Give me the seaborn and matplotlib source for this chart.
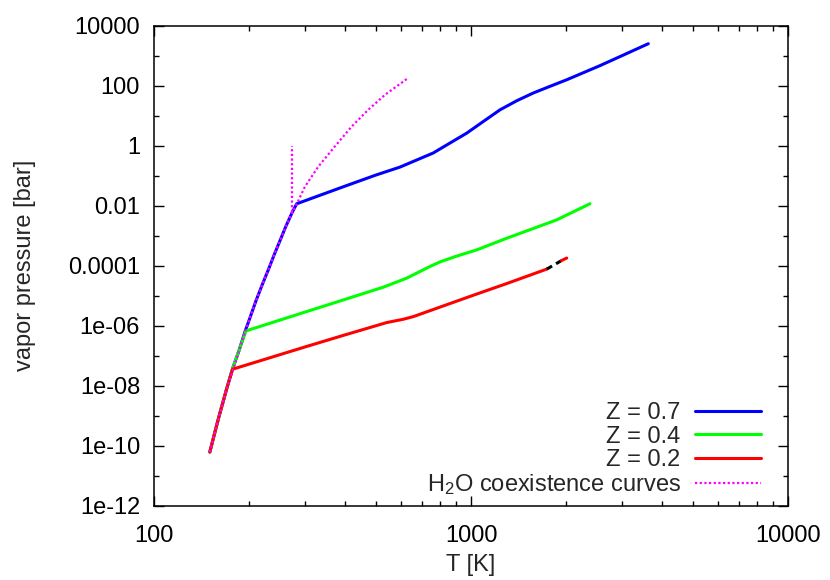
# Water vapor pressure vs temperature for three Z values, log-log
import numpy as np
import pandas as pd
import seaborn as sns
import matplotlib
matplotlib.use("Agg")
import matplotlib.pyplot as plt
from matplotlib.ticker import FixedLocator, FixedFormatter, LogLocator, NullFormatter

# === Data ===
# Z = 0.7
t_z07 = [150, 160, 170, 177, 185, 194, 200, 210, 220, 230, 240, 250, 260, 273, 282,
         400, 500, 597, 760, 858, 969, 1094, 1235, 1394, 1573, 1775, 2004, 2553, 3023, 3625]
p_z07 = [6.3e-11, 8.9e-10, 8.9e-9, 3.8e-8, 1.4e-7, 6.8e-7, 1.66e-6, 7.1e-6, 2.5e-5, 7.9e-5,
         2.5e-4, 7.1e-4, 1.96e-3, 6.1e-3, 1.17e-2,
         4.5e-2, 0.105, 0.195, 0.575, 1.23, 2.63, 6.46, 15.8, 31.6, 57.5, 95.5, 158, 468,
         1050, 2512]

# Z = 0.4
t_z04 = [150, 160, 170, 177, 185, 195, 300, 400, 529, 627, 742, 798, 900, 1042, 1296, 1863, 2373]
p_z04 = [6.3e-11, 8.9e-10, 8.9e-9, 3.8e-8, 1.4e-7, 6.8e-7, 2.9e-6, 7.6e-6, 1.95e-5, 3.9e-5,
         9.5e-5, 1.35e-4, 2.1e-4, 3.4e-4, 8.3e-4, 3.4e-3, 1.17e-2]

# Z = 0.2 (with a short black dashed piece near 2000 K)
t_z02 = [150, 160, 170, 177, 300, 400, 542, 611, 658, 1017, 1300, 1734]
p_z02 = [6.3e-11, 8.9e-10, 8.9e-9, 3.6e-8, 2.0e-7, 5.0e-7, 1.29e-6, 1.66e-6, 2.04e-6,
         1.05e-5, 2.6e-5, 7.8e-5]
t_z02_dash = [1734, 1932]
p_z02_dash = [7.8e-5, 1.51e-4]
t_z02_tail = [1932, 2004]
p_z02_tail = [1.51e-4, 1.82e-4]

# H2O coexistence: sublimation + vaporization, and melting line
t_h2o = [150, 160, 170, 180, 190, 200, 210, 220, 230, 240, 250, 260, 273,
         282, 299.5, 330, 372, 420.5, 474, 535.5, 634]
p_h2o = [6.3e-11, 8.9e-10, 8.9e-9, 5.4e-8, 3.3e-7, 1.66e-6, 7.1e-6, 2.5e-5, 7.9e-5, 2.5e-4,
         7.1e-4, 1.96e-3, 6.1e-3,
         1.15e-2, 4.4e-2, 0.204, 0.95, 4.4, 15.8, 50, 182]
t_melt = [273.2, 273.2]
p_melt = [6.1e-3, 1.0]

x_ticks = [100, 1000, 10000]
x_labels = ["100", "1000", "10000"]
y_ticks = [1e-12, 1e-10, 1e-8, 1e-6, 1e-4, 1e-2, 1, 100, 10000]
y_labels = ["1e-12", "1e-10", "1e-08", "1e-06", "0.0001", "0.01", "1", "100", "10000"]
y_minor = [1e-11, 1e-9, 1e-7, 1e-5, 1e-3, 1e-1, 10, 1000]

# === Style ===
sns.set_style("ticks")
plt.rcParams['font.family'] = ['Liberation Sans', 'DejaVu Sans']
plt.rcParams['mathtext.fontset'] = 'custom'
plt.rcParams['mathtext.rm'] = 'Liberation Sans'
plt.rcParams['mathtext.it'] = 'Liberation Sans:italic'
plt.rcParams['font.size'] = 17

fig = plt.figure(figsize=(8.3, 5.8), dpi=100)
ax = fig.add_axes([154 / 830, 1 - 506 / 580, 634 / 830, (506 - 25.7) / 580])
ax.set_xscale('log')
ax.set_yscale('log')

lw = 2.2
dots = (0, (1, 1.1))
sns.lineplot(x=t_z07, y=p_z07, ax=ax, color='#0000ff', lw=lw, sort=False, estimator=None,
             label='Z = 0.7', zorder=2)
sns.lineplot(x=t_z04, y=p_z04, ax=ax, color='#00ff00', lw=lw, sort=False, estimator=None,
             label='Z = 0.4', zorder=3)
sns.lineplot(x=t_z02, y=p_z02, ax=ax, color='#ff0000', lw=lw, sort=False, estimator=None,
             label='Z = 0.2', zorder=4)
sns.lineplot(x=t_z02_dash, y=p_z02_dash, ax=ax, color='black', lw=lw, sort=False,
             estimator=None, linestyle=(0, (2, 1.5)), zorder=4)
sns.lineplot(x=t_z02_tail, y=p_z02_tail, ax=ax, color='#ff0000', lw=lw, sort=False,
             estimator=None, zorder=4)
sns.lineplot(x=t_h2o, y=p_h2o, ax=ax, color='#ff00ff', lw=1.6, sort=False, estimator=None,
             linestyle=dots, label='H$_2$O coexistence curves', zorder=5)
sns.lineplot(x=t_melt, y=p_melt, ax=ax, color='#ff00ff', lw=1.6, sort=False, estimator=None,
             linestyle=dots, zorder=5)

# === Axes ===
ax.set_xlim(100, 10000)
ax.set_ylim(1e-12, 1e4)
ax.xaxis.set_major_locator(FixedLocator(x_ticks))
ax.xaxis.set_major_formatter(FixedFormatter(x_labels))
ax.xaxis.set_minor_locator(LogLocator(base=10, subs=np.arange(2, 10)))
ax.xaxis.set_minor_formatter(NullFormatter())
ax.yaxis.set_major_locator(FixedLocator(y_ticks))
ax.yaxis.set_major_formatter(FixedFormatter(y_labels))
ax.yaxis.set_minor_locator(FixedLocator(y_minor))
ax.yaxis.set_minor_formatter(NullFormatter())

ax.tick_params(which='both', direction='in', top=True, right=True, width=1.0, colors='black')
ax.tick_params(which='major', length=7.2)
ax.tick_params(which='minor', length=3.6)
ax.tick_params(axis='x', which='major', pad=14)
ax.tick_params(axis='y', which='major', pad=10)
for s in ax.spines.values():
    s.set_linewidth(1.1)
    s.set_color('black')

ax.set_xlabel("T [K]", labelpad=5)
ax.set_ylabel("vapor pressure [bar]", labelpad=23)

# === Legend: text right-aligned, sample on the right ===
leg = ax.legend(loc='lower right', bbox_to_anchor=(0.9574, 0.019), frameon=False,
                markerfirst=False, handlelength=2.8, handletextpad=0.6,
                labelspacing=0.05, borderpad=0, borderaxespad=0, fontsize=17)
leg._legend_box._children[-1]._children[0].align = "right"

fig.savefig("out.png", dpi=100)
